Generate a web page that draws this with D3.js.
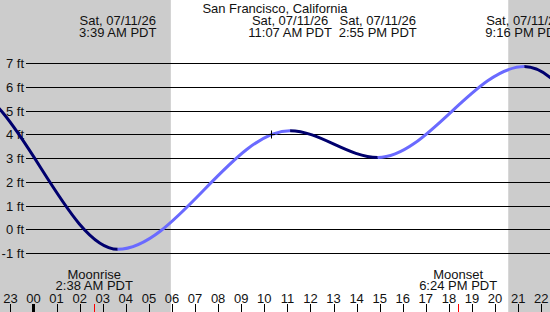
<!DOCTYPE html>
<html>
<head>
<meta charset="utf-8">
<title>Tide chart</title>
<script src="https://d3js.org/d3.v7.min.js"></script>
<style>
  body { margin: 0; background: #fff; }
  text { font-family: "Liberation Sans", Arial, sans-serif; font-size: 13px; fill: #111; }
</style>
</head>
<body>
<svg width="550" height="312"></svg>
<script>
// hours counted from midnight of Sat 07/11/26 (negative = day before)
var station = "San Francisco, California";
var dateLabel = "Sat, 07/11/26";
var tideHours = [-9.4, -3.0, 3.65, 11.117, 14.917, 21.267, 28.9, 35.3];
var tideFeet = [3.2, 6.0, -0.82, 4.17, 3.04, 6.87, -0.9, 4.3];
var tideTimes = ["", "", "3:39 AM PDT", "11:07 AM PDT", "2:55 PM PDT", "9:16 PM PDT", "", ""];
var footTicks = [-1, 0, 1, 2, 3, 4, 5, 6, 7];
var hourLabels = ["23","00","01","02","03","04","05","06","07","08","09","10","11",
                  "12","13","14","15","16","17","18","19","20","21","22"];
var firstHour = -1;
var sunrise = 5.95, sunset = 20.57;
var moonHours = [2.633, 18.4];
var moonNames = ["Moonrise", "Moonset"];
var moonTimes = ["2:38 AM PDT", "6:24 PM PDT"];
var nowHour = 10.29, nowFeet = 4.02;

var W = 550, H = 312;
var svg = d3.select("svg");

var x = d3.scaleLinear().domain([-1.4515, 22.379]).range([0, W]);
var y = d3.scaleLinear().domain([-1, 7]).range([253.5, 63.5]);

// night shading
svg.selectAll("rect.night")
  .data([[x.domain()[0], sunrise], [sunset, x.domain()[1]]])
  .enter().append("rect")
  .attr("class", "night")
  .attr("x", d => x(d[0]))
  .attr("width", d => x(d[1]) - x(d[0]))
  .attr("y", 0).attr("height", H)
  .attr("fill", "#cccccc");

// grid lines + foot labels
var grid = svg.append("g");
grid.selectAll("line")
  .data(footTicks).enter().append("line")
  .attr("x1", 26).attr("x2", W)
  .attr("y1", d => Math.floor(y(d)) + 0.5)
  .attr("y2", d => Math.floor(y(d)) + 0.5)
  .attr("stroke", "#000").attr("stroke-width", 1);
grid.selectAll("text")
  .data(footTicks).enter().append("text")
  .attr("x", 24).attr("y", d => Math.floor(y(d)) + 0.5)
  .attr("dy", "0.36em")
  .attr("text-anchor", "end")
  .text(d => d + " ft");

// tide curve, rising light / falling dark
var pts = tideHours.map((h, i) => ({h: h, v: tideFeet[i]}));
var line = d3.line().x(d => x(d.h)).y(d => y(d.v)).curve(d3.curveMonotoneX);
var defs = svg.append("defs");
for (var i = 0; i < pts.length - 1; i++) {
  defs.append("clipPath").attr("id", "seg" + i)
    .append("rect")
    .attr("x", x(pts[i].h)).attr("width", x(pts[i + 1].h) - x(pts[i].h))
    .attr("y", 0).attr("height", H);
  svg.append("path")
    .datum(pts)
    .attr("clip-path", "url(#seg" + i + ")")
    .attr("d", line)
    .attr("fill", "none")
    .attr("stroke", pts[i + 1].v > pts[i].v ? "#6a6aff" : "#00006e")
    .attr("stroke-width", 3);
}

// current time marker
var cx = Math.round(x(nowHour)) + 0.5, cy = Math.round(y(nowFeet)) + 0.5;
svg.append("path")
  .attr("d", "M" + (cx - 4) + "," + cy + "h8M" + cx + "," + (cy - 4) + "v8")
  .attr("stroke", "#000").attr("stroke-width", 1);

// title
svg.append("text").attr("x", W / 2).attr("y", 12.5)
  .attr("text-anchor", "middle").text(station);

// high / low labels
var ext = tideHours.map((h, i) => ({h: h, t: tideTimes[i]})).filter(d => d.t);
var lab = svg.selectAll("g.ext").data(ext).enter().append("g");
lab.append("text").attr("x", d => x(d.h)).attr("y", 24.5)
  .attr("text-anchor", "middle").text(dateLabel);
lab.append("text").attr("x", d => x(d.h)).attr("y", 37)
  .attr("text-anchor", "middle").text(d => d.t);

// moon labels
moonHours.forEach(function(h, i) {
  svg.append("text").attr("x", x(h)).attr("y", 278.5)
    .attr("text-anchor", "middle").text(moonNames[i]);
  svg.append("text").attr("x", x(h)).attr("y", 290)
    .attr("text-anchor", "middle").text(moonTimes[i]);
  svg.append("line")
    .attr("x1", Math.round(x(h)) + 0.5).attr("x2", Math.round(x(h)) + 0.5)
    .attr("y1", 304).attr("y2", H)
    .attr("stroke", "red").attr("stroke-width", 1);
});

// hour axis
var hrs = hourLabels.map((l, i) => ({h: firstHour + i, l: l}));
svg.selectAll("line.hr").data(hrs).enter().append("line")
  .attr("class", "hr")
  .attr("x1", d => d.h === 0 ? x(0) : Math.round(x(d.h)) + 0.5)
  .attr("x2", d => d.h === 0 ? x(0) : Math.round(x(d.h)) + 0.5)
  .attr("y1", 304).attr("y2", H)
  .attr("stroke", "#000")
  .attr("stroke-width", d => d.h === 0 ? 3 : 1);
svg.selectAll("text.hr").data(hrs).enter().append("text")
  .attr("class", "hr")
  .attr("x", d => x(d.h)).attr("y", 302.5)
  .attr("text-anchor", "middle").text(d => d.l);
</script>
</body>
</html>
